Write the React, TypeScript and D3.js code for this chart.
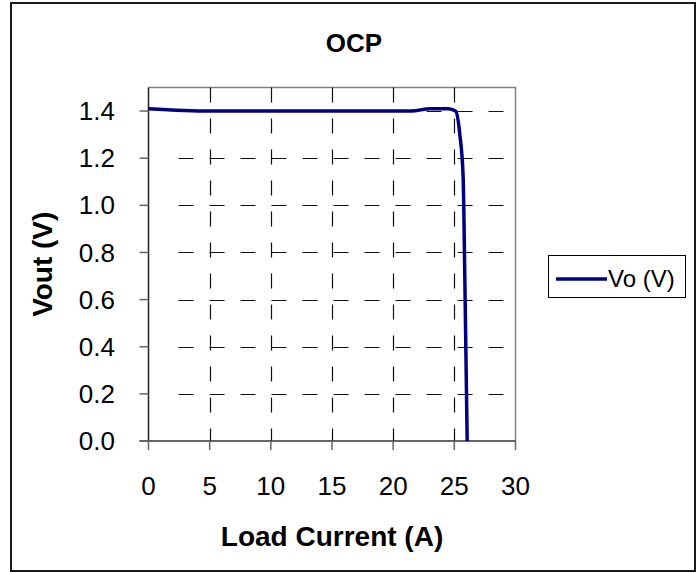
import { useEffect, useRef } from 'react';
import * as d3 from 'd3';

// OCP test: output voltage vs load current
const loadCurrent = [0, 5, 10, 15, 20, 21.5, 23, 24.5, 25.1, 25.45, 25.72, 25.85, 25.95, 26.05];
const vout = [1.41, 1.40, 1.40, 1.40, 1.40, 1.40, 1.41, 1.41, 1.40, 1.30, 1.12, 0.72, 0.36, 0.0];

const xTicks = [0, 5, 10, 15, 20, 25, 30];
const yTicks = [0, 0.2, 0.4, 0.6, 0.8, 1.0, 1.2, 1.4];

const seriesName = 'Vo (V)';
const chartTitle = 'OCP';
const xTitle = 'Load Current (A)';
const yTitle = 'Vout (V)';

const W = 699;
const H = 573;
const FONT = '"Liberation Sans", Arial, sans-serif';

const App = () => {
  const ref = useRef<SVGSVGElement>(null);

  useEffect(() => {
    if (!ref.current) return;
    const svg = d3.select(ref.current);
    svg.selectAll('*').remove();

    // plot area
    const left = 148.5, right = 515.5, top = 87.5, bottom = 441;

    const x = d3.scaleLinear().domain([0, 30]).range([left, right]);
    const y = d3.scaleLinear().domain([0, 1.5]).range([bottom, top]);

    // outer chart border
    svg.append('rect')
      .attr('x', 11).attr('y', 3)
      .attr('width', 684).attr('height', 568)
      .attr('fill', 'white')
      .attr('stroke', '#1a1a1a')
      .attr('stroke-width', 2);

    // plot border (top & right grey)
    svg.append('path')
      .attr('d', `M${left},${top}H${right}V${bottom}`)
      .attr('fill', 'none')
      .attr('stroke', '#808080')
      .attr('stroke-width', 1.5);

    // horizontal gridlines
    svg.append('g')
      .selectAll('line')
      .data(yTicks.filter(d => d > 0))
      .enter()
      .append('line')
      .attr('x1', left + 15).attr('x2', right)
      .attr('y1', d => Math.round(y(d)) + 0.5)
      .attr('y2', d => Math.round(y(d)) + 0.5)
      .attr('stroke', '#111')
      .attr('stroke-width', 1.2)
      .attr('stroke-dasharray', '15 16')
      .attr('stroke-dashoffset', -15);

    // vertical gridlines
    svg.append('g')
      .selectAll('line')
      .data(xTicks.filter(d => d > 0 && d < 30))
      .enter()
      .append('line')
      .attr('x1', d => Math.round(x(d)) + 0.5)
      .attr('x2', d => Math.round(x(d)) + 0.5)
      .attr('y1', top)
      .attr('y2', bottom)
      .attr('stroke', '#111')
      .attr('stroke-width', 1.2)
      .attr('stroke-dasharray', '15 16');

    // axes
    svg.append('line')
      .attr('x1', left).attr('x2', left)
      .attr('y1', top).attr('y2', bottom)
      .attr('stroke', '#222').attr('stroke-width', 1.5);
    svg.append('line')
      .attr('x1', left - 9).attr('x2', right)
      .attr('y1', bottom).attr('y2', bottom)
      .attr('stroke', '#333').attr('stroke-width', 1.5);

    // y ticks + labels
    const yt = svg.append('g');
    yt.selectAll('line')
      .data(yTicks)
      .enter()
      .append('line')
      .attr('x1', left - 9).attr('x2', left)
      .attr('y1', d => y(d)).attr('y2', d => y(d))
      .attr('stroke', '#666').attr('stroke-width', 1.5);
    yt.selectAll('text')
      .data(yTicks)
      .enter()
      .append('text')
      .attr('x', 115)
      .attr('y', d => y(d))
      .attr('dy', '0.35em')
      .attr('text-anchor', 'end')
      .style('font-family', FONT)
      .style('font-size', '26px')
      .style('fill', '#000')
      .text(d => d3.format('.1f')(d));

    // x ticks + labels
    const xt = svg.append('g');
    xt.selectAll('line')
      .data(xTicks)
      .enter()
      .append('line')
      .attr('x1', d => x(d)).attr('x2', d => x(d))
      .attr('y1', bottom).attr('y2', bottom + 9)
      .attr('stroke', '#666').attr('stroke-width', 1.5);
    xt.selectAll('text')
      .data(xTicks)
      .enter()
      .append('text')
      .attr('x', d => x(d))
      .attr('y', 495)
      .attr('text-anchor', 'middle')
      .style('font-family', FONT)
      .style('font-size', '26px')
      .style('fill', '#000')
      .text(d => String(d));

    // data line
    const pts = loadCurrent.map((c, i) => [c, vout[i]] as [number, number]);
    const line = d3.line<[number, number]>()
      .x(d => x(d[0]))
      .y(d => y(d[1]))
      .curve(d3.curveMonotoneX);
    svg.append('path')
      .datum(pts)
      .attr('d', line)
      .attr('fill', 'none')
      .attr('stroke', '#000080')
      .attr('stroke-width', 3.5)
      .attr('stroke-linejoin', 'round');

    // titles
    svg.append('text')
      .attr('x', 354).attr('y', 52)
      .attr('text-anchor', 'middle')
      .style('font-family', FONT)
      .style('font-size', '26px')
      .style('font-weight', 'bold')
      .text(chartTitle);

    svg.append('text')
      .attr('x', (left + right) / 2).attr('y', 546)
      .attr('text-anchor', 'middle')
      .style('font-family', FONT)
      .style('font-size', '28px')
      .style('font-weight', 'bold')
      .text(xTitle);

    svg.append('text')
      .attr('transform', `translate(52, ${(top + bottom) / 2}) rotate(-90)`)
      .attr('text-anchor', 'middle')
      .style('font-family', FONT)
      .style('font-size', '28px')
      .style('font-weight', 'bold')
      .text(yTitle);

    // legend
    const lg = svg.append('g');
    lg.append('rect')
      .attr('x', 548.5).attr('y', 255.5)
      .attr('width', 137).attr('height', 42)
      .attr('fill', 'white')
      .attr('stroke', '#000')
      .attr('stroke-width', 1);
    lg.append('line')
      .attr('x1', 556).attr('x2', 607)
      .attr('y1', 279).attr('y2', 279)
      .attr('stroke', '#000080')
      .attr('stroke-width', 3.5);
    lg.append('text')
      .attr('x', 608).attr('y', 287)
      .style('font-family', FONT)
      .style('font-size', '24px')
      .text(seriesName);
  }, []);

  return (
    <svg
      ref={ref}
      width={W}
      height={H}
      style={{ position: 'absolute', left: 0, top: 0, background: 'white' }}
    />
  );
};

export default App;
